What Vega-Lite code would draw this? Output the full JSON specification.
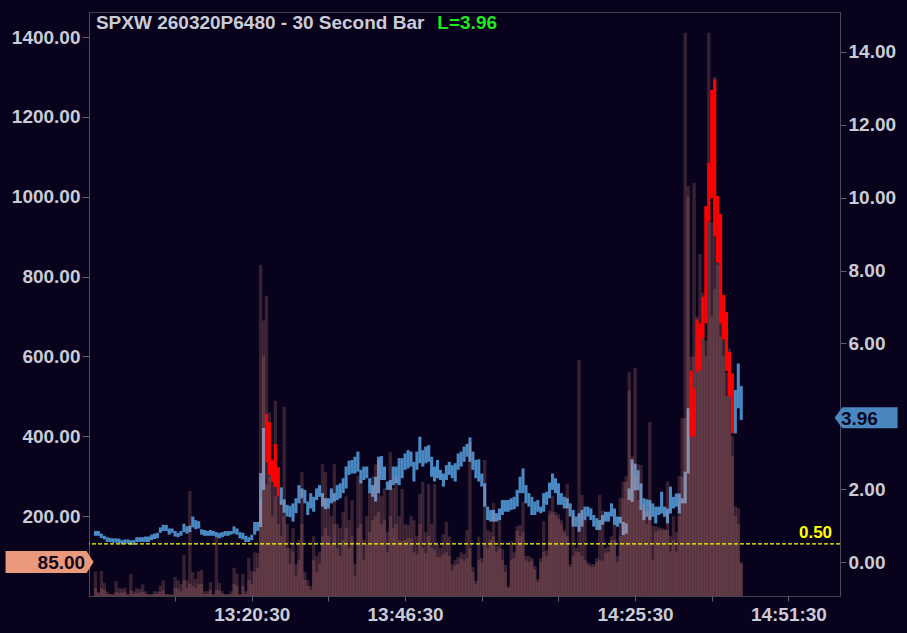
{
"$schema": "https://vega.github.io/schema/vega-lite/v6.json",
"width": 751, "height": 584,
"autosize": "none",
"padding": {"left": 89, "top": 12, "right": 67, "bottom": 37},
"background": "#08021c",
"config": {
  "view": {"stroke": "#3f4450", "strokeWidth": 1},
  "axis": {"labelFont": "Liberation Sans", "labelFontWeight": "bold", "labelFontSize": 19, "labelColor": "#c9ccd6", "tickColor": "#5d626e", "domainColor": "#4a4f5a", "grid": false},
  "text": {"font": "Liberation Sans", "fontWeight": "bold", "fontSize": 19}
},
"datasets": {"bars": [
{"m":774.0,"lo":0.72,"hi":0.85,"c":"b","v":61,"w":20},
{"m":774.5,"lo":0.72,"hi":0.85,"c":"b","v":10,"w":5},
{"m":775.0,"lo":0.66,"hi":0.78,"c":"b","v":63,"w":20},
{"m":775.5,"lo":0.62,"hi":0.72,"c":"b","v":33,"w":15},
{"m":776.0,"lo":0.55,"hi":0.68,"c":"b","v":11,"w":5},
{"m":776.5,"lo":0.55,"hi":0.66,"c":"b","v":5,"w":3},
{"m":777.0,"lo":0.53,"hi":0.65,"c":"b","v":5,"w":3},
{"m":777.5,"lo":0.53,"hi":0.65,"c":"b","v":37,"w":10},
{"m":778.0,"lo":0.52,"hi":0.64,"c":"b","v":20,"w":8},
{"m":778.5,"lo":0.48,"hi":0.60,"c":"b","v":18,"w":8},
{"m":779.0,"lo":0.52,"hi":0.62,"c":"b","v":21,"w":10},
{"m":779.5,"lo":0.50,"hi":0.62,"c":"b","v":5,"w":3},
{"m":780.0,"lo":0.47,"hi":0.60,"c":"b","v":55,"w":15},
{"m":780.5,"lo":0.47,"hi":0.60,"c":"b","v":12,"w":5},
{"m":781.0,"lo":0.55,"hi":0.68,"c":"b","v":20,"w":8},
{"m":781.5,"lo":0.55,"hi":0.68,"c":"b","v":18,"w":8},
{"m":782.0,"lo":0.55,"hi":0.68,"c":"b","v":29,"w":10},
{"m":782.5,"lo":0.55,"hi":0.70,"c":"b","v":12,"w":5},
{"m":783.0,"lo":0.55,"hi":0.70,"c":"b","v":5,"w":3},
{"m":783.5,"lo":0.60,"hi":0.75,"c":"b","v":5,"w":3},
{"m":784.0,"lo":0.63,"hi":0.78,"c":"b","v":12,"w":5},
{"m":784.5,"lo":0.65,"hi":0.80,"c":"b","v":12,"w":5},
{"m":785.0,"lo":0.80,"hi":0.95,"c":"b","v":26,"w":10},
{"m":785.5,"lo":0.85,"hi":1.02,"c":"b","v":39,"w":15},
{"m":786.0,"lo":0.85,"hi":1.02,"c":"b","v":5,"w":3},
{"m":786.5,"lo":0.75,"hi":0.92,"c":"b","v":5,"w":3},
{"m":787.0,"lo":0.80,"hi":0.92,"c":"b","v":4,"w":2},
{"m":787.5,"lo":0.70,"hi":0.85,"c":"b","v":48,"w":20},
{"m":788.0,"lo":0.68,"hi":0.80,"c":"b","v":39,"w":18},
{"m":788.5,"lo":0.72,"hi":0.85,"c":"b","v":30,"w":12},
{"m":789.0,"lo":0.82,"hi":1.05,"c":"b","v":103,"w":40},
{"m":789.5,"lo":0.78,"hi":0.98,"c":"b","v":39,"w":20},
{"m":790.0,"lo":0.82,"hi":1.00,"c":"b","v":263,"w":30},
{"m":790.5,"lo":0.95,"hi":1.25,"c":"b","v":60,"w":25},
{"m":791.0,"lo":0.90,"hi":1.15,"c":"b","v":43,"w":20},
{"m":791.5,"lo":0.92,"hi":1.12,"c":"b","v":62,"w":30},
{"m":792.0,"lo":0.75,"hi":0.90,"c":"b","v":65,"w":30},
{"m":792.5,"lo":0.72,"hi":0.88,"c":"b","v":12,"w":5},
{"m":793.0,"lo":0.72,"hi":0.85,"c":"b","v":12,"w":5},
{"m":793.5,"lo":0.72,"hi":0.88,"c":"b","v":35,"w":15},
{"m":794.0,"lo":0.72,"hi":0.85,"c":"b","v":5,"w":3},
{"m":794.5,"lo":0.68,"hi":0.82,"c":"b","v":148,"w":15},
{"m":795.0,"lo":0.65,"hi":0.80,"c":"b","v":33,"w":15},
{"m":795.5,"lo":0.68,"hi":0.82,"c":"b","v":12,"w":5},
{"m":796.0,"lo":0.72,"hi":0.85,"c":"b","v":5,"w":3},
{"m":796.5,"lo":0.72,"hi":0.85,"c":"b","v":5,"w":3},
{"m":797.0,"lo":0.75,"hi":0.85,"c":"b","v":12,"w":5},
{"m":797.5,"lo":0.78,"hi":0.98,"c":"b","v":71,"w":30},
{"m":798.0,"lo":0.75,"hi":0.92,"c":"b","v":56,"w":25},
{"m":798.5,"lo":0.65,"hi":0.82,"c":"b","v":5,"w":3},
{"m":799.0,"lo":0.62,"hi":0.80,"c":"b","v":55,"w":25},
{"m":799.5,"lo":0.55,"hi":0.72,"c":"b","v":12,"w":5},
{"m":800.0,"lo":0.55,"hi":0.68,"c":"b","v":95,"w":40},
{"m":800.5,"lo":0.60,"hi":0.75,"c":"b","v":63,"w":30},
{"m":801.0,"lo":0.75,"hi":1.10,"c":"b","v":109,"w":60},
{"m":801.5,"lo":0.85,"hi":1.10,"c":"b","v":108,"w":70},
{"m":802.0,"lo":0.96,"hi":2.44,"c":"b","v":829,"w":240},
{"m":802.5,"lo":1.98,"hi":3.68,"c":"b","v":690,"w":600},
{"m":803.0,"lo":2.74,"hi":4.06,"c":"r","v":752,"w":280},
{"m":803.5,"lo":2.39,"hi":3.84,"c":"r","v":460,"w":300},
{"m":804.0,"lo":2.20,"hi":2.80,"c":"r","v":300,"w":200},
{"m":804.5,"lo":2.06,"hi":3.24,"c":"r","v":489,"w":250},
{"m":805.0,"lo":1.80,"hi":2.60,"c":"r","v":250,"w":180},
{"m":805.5,"lo":1.57,"hi":2.05,"c":"b","v":240,"w":150},
{"m":806.0,"lo":1.35,"hi":1.72,"c":"b","v":474,"w":200},
{"m":806.5,"lo":1.25,"hi":1.57,"c":"b","v":180,"w":120},
{"m":807.0,"lo":1.23,"hi":1.54,"c":"b","v":120,"w":80},
{"m":807.5,"lo":1.11,"hi":1.61,"c":"b","v":170,"w":110},
{"m":808.0,"lo":1.34,"hi":1.75,"c":"b","v":80,"w":50},
{"m":808.5,"lo":1.61,"hi":2.11,"c":"b","v":140,"w":90},
{"m":809.0,"lo":1.75,"hi":2.02,"c":"b","v":310,"w":180},
{"m":809.5,"lo":1.61,"hi":1.98,"c":"b","v":60,"w":40},
{"m":810.0,"lo":1.29,"hi":1.66,"c":"b","v":40,"w":25},
{"m":810.5,"lo":1.47,"hi":1.89,"c":"b","v":25,"w":15},
{"m":811.0,"lo":1.38,"hi":1.79,"c":"b","v":150,"w":90},
{"m":811.5,"lo":1.70,"hi":2.02,"c":"b","v":100,"w":60},
{"m":812.0,"lo":1.79,"hi":2.11,"c":"b","v":110,"w":80},
{"m":812.5,"lo":1.52,"hi":1.89,"c":"b","v":330,"w":150},
{"m":813.0,"lo":1.45,"hi":1.75,"c":"b","v":310,"w":170},
{"m":813.5,"lo":1.47,"hi":1.75,"c":"b","v":220,"w":150},
{"m":814.0,"lo":1.61,"hi":2.02,"c":"b","v":200,"w":130},
{"m":814.5,"lo":1.66,"hi":1.89,"c":"b","v":330,"w":180},
{"m":815.0,"lo":1.70,"hi":2.11,"c":"b","v":180,"w":120},
{"m":815.5,"lo":1.75,"hi":2.16,"c":"b","v":170,"w":100},
{"m":816.0,"lo":1.89,"hi":2.30,"c":"b","v":210,"w":140},
{"m":816.5,"lo":2.02,"hi":2.62,"c":"b","v":250,"w":170},
{"m":817.0,"lo":2.39,"hi":2.78,"c":"b","v":190,"w":120},
{"m":817.5,"lo":2.43,"hi":2.80,"c":"b","v":240,"w":150},
{"m":818.0,"lo":2.43,"hi":2.89,"c":"b","v":80,"w":50},
{"m":818.5,"lo":2.48,"hi":3.03,"c":"b","v":300,"w":170},
{"m":819.0,"lo":2.16,"hi":2.53,"c":"b","v":290,"w":180},
{"m":819.5,"lo":2.25,"hi":2.62,"c":"b","v":140,"w":90},
{"m":820.0,"lo":2.30,"hi":2.62,"c":"b","v":200,"w":130},
{"m":820.5,"lo":1.89,"hi":2.30,"c":"b","v":260,"w":160},
{"m":821.0,"lo":1.79,"hi":2.11,"c":"b","v":300,"w":190},
{"m":821.5,"lo":1.66,"hi":2.34,"c":"b","v":330,"w":200},
{"m":822.0,"lo":1.89,"hi":2.89,"c":"b","v":340,"w":210},
{"m":822.5,"lo":2.25,"hi":2.91,"c":"b","v":250,"w":180},
{"m":823.0,"lo":2.25,"hi":2.62,"c":"b","v":270,"w":190},
{"m":823.5,"lo":1.98,"hi":2.21,"c":"b","v":160,"w":110},
{"m":824.0,"lo":1.98,"hi":2.25,"c":"b","v":360,"w":200},
{"m":824.5,"lo":2.11,"hi":2.62,"c":"b","v":270,"w":170},
{"m":825.0,"lo":2.16,"hi":2.62,"c":"b","v":300,"w":180},
{"m":825.5,"lo":2.11,"hi":2.85,"c":"b","v":200,"w":140},
{"m":826.0,"lo":2.30,"hi":2.85,"c":"b","v":268,"w":138},
{"m":826.5,"lo":2.53,"hi":2.98,"c":"b","v":180,"w":140},
{"m":827.0,"lo":2.57,"hi":3.07,"c":"b","v":178,"w":145},
{"m":827.5,"lo":2.62,"hi":3.03,"c":"b","v":200,"w":145},
{"m":828.0,"lo":2.21,"hi":2.75,"c":"b","v":190,"w":110},
{"m":828.5,"lo":2.53,"hi":3.03,"c":"b","v":150,"w":103},
{"m":829.0,"lo":2.71,"hi":3.44,"c":"b","v":256,"w":180},
{"m":829.5,"lo":2.62,"hi":3.07,"c":"b","v":286,"w":120},
{"m":830.0,"lo":2.71,"hi":3.17,"c":"b","v":160,"w":108},
{"m":830.5,"lo":2.75,"hi":3.21,"c":"b","v":281,"w":150},
{"m":831.0,"lo":2.34,"hi":2.89,"c":"b","v":180,"w":120},
{"m":831.5,"lo":2.21,"hi":2.62,"c":"b","v":281,"w":115},
{"m":832.0,"lo":2.30,"hi":2.80,"c":"b","v":130,"w":98},
{"m":832.5,"lo":2.25,"hi":2.53,"c":"b","v":120,"w":98},
{"m":833.0,"lo":2.07,"hi":2.43,"c":"b","v":155,"w":105},
{"m":833.5,"lo":2.25,"hi":2.66,"c":"b","v":185,"w":110},
{"m":834.0,"lo":2.39,"hi":2.75,"c":"b","v":149,"w":100},
{"m":834.5,"lo":2.30,"hi":2.66,"c":"b","v":80,"w":63},
{"m":835.0,"lo":2.21,"hi":2.71,"c":"b","v":90,"w":78},
{"m":835.5,"lo":2.53,"hi":2.98,"c":"b","v":98,"w":80},
{"m":836.0,"lo":2.62,"hi":3.03,"c":"b","v":110,"w":93},
{"m":836.5,"lo":2.75,"hi":3.17,"c":"b","v":105,"w":89},
{"m":837.0,"lo":2.89,"hi":3.24,"c":"b","v":165,"w":95},
{"m":837.5,"lo":2.75,"hi":3.42,"c":"b","v":386,"w":120},
{"m":838.0,"lo":2.53,"hi":3.03,"c":"b","v":73,"w":60},
{"m":838.5,"lo":2.30,"hi":2.80,"c":"b","v":38,"w":30},
{"m":839.0,"lo":2.21,"hi":2.82,"c":"b","v":149,"w":90},
{"m":839.5,"lo":2.07,"hi":2.43,"c":"b","v":95,"w":84},
{"m":840.0,"lo":1.52,"hi":2.16,"c":"b","v":341,"w":130},
{"m":840.5,"lo":1.15,"hi":1.52,"c":"b","v":165,"w":120},
{"m":841.0,"lo":1.11,"hi":1.43,"c":"b","v":160,"w":140},
{"m":841.5,"lo":1.11,"hi":1.43,"c":"b","v":233,"w":150},
{"m":842.0,"lo":1.11,"hi":1.34,"c":"b","v":125,"w":111},
{"m":842.5,"lo":1.15,"hi":1.47,"c":"b","v":195,"w":120},
{"m":843.0,"lo":1.29,"hi":1.70,"c":"b","v":118,"w":90},
{"m":843.5,"lo":1.38,"hi":1.70,"c":"b","v":78,"w":60},
{"m":844.0,"lo":1.38,"hi":1.70,"c":"b","v":24,"w":20},
{"m":844.5,"lo":1.43,"hi":1.75,"c":"b","v":138,"w":90},
{"m":845.0,"lo":1.45,"hi":1.79,"c":"b","v":110,"w":95},
{"m":845.5,"lo":1.52,"hi":1.98,"c":"b","v":175,"w":163},
{"m":846.0,"lo":1.89,"hi":2.34,"c":"b","v":178,"w":150},
{"m":846.5,"lo":1.89,"hi":2.57,"c":"b","v":236,"w":160},
{"m":847.0,"lo":1.61,"hi":2.11,"c":"b","v":100,"w":89},
{"m":847.5,"lo":1.52,"hi":1.89,"c":"b","v":100,"w":85},
{"m":848.0,"lo":1.29,"hi":1.79,"c":"b","v":95,"w":89},
{"m":848.5,"lo":1.29,"hi":1.66,"c":"b","v":75,"w":66},
{"m":849.0,"lo":1.38,"hi":1.70,"c":"b","v":42,"w":35},
{"m":849.5,"lo":1.34,"hi":1.52,"c":"b","v":95,"w":85},
{"m":850.0,"lo":1.38,"hi":1.89,"c":"b","v":188,"w":110},
{"m":850.5,"lo":1.57,"hi":1.93,"c":"b","v":115,"w":100},
{"m":851.0,"lo":1.75,"hi":2.18,"c":"b","v":215,"w":205},
{"m":851.5,"lo":1.98,"hi":2.43,"c":"b","v":251,"w":210},
{"m":852.0,"lo":1.89,"hi":2.30,"c":"b","v":210,"w":202},
{"m":852.5,"lo":1.57,"hi":2.16,"c":"b","v":205,"w":194},
{"m":853.0,"lo":1.57,"hi":1.89,"c":"b","v":190,"w":181},
{"m":853.5,"lo":1.47,"hi":1.79,"c":"b","v":165,"w":158},
{"m":854.0,"lo":1.47,"hi":1.75,"c":"b","v":281,"w":150},
{"m":854.5,"lo":1.25,"hi":1.61,"c":"b","v":80,"w":73},
{"m":855.0,"lo":0.97,"hi":1.43,"c":"b","v":202,"w":100},
{"m":855.5,"lo":0.97,"hi":1.25,"c":"b","v":120,"w":111},
{"m":856.0,"lo":0.83,"hi":1.34,"c":"b","v":591,"w":110},
{"m":856.5,"lo":0.97,"hi":1.43,"c":"b","v":253,"w":100},
{"m":857.0,"lo":1.15,"hi":1.52,"c":"b","v":190,"w":90},
{"m":857.5,"lo":1.25,"hi":1.52,"c":"b","v":85,"w":78},
{"m":858.0,"lo":1.15,"hi":1.47,"c":"b","v":80,"w":73},
{"m":858.5,"lo":0.97,"hi":1.29,"c":"b","v":80,"w":73},
{"m":859.0,"lo":0.88,"hi":1.20,"c":"b","v":95,"w":86},
{"m":859.5,"lo":0.88,"hi":1.15,"c":"b","v":253,"w":90},
{"m":860.0,"lo":1.02,"hi":1.29,"c":"b","v":214,"w":88},
{"m":860.5,"lo":1.11,"hi":1.38,"c":"b","v":120,"w":108},
{"m":861.0,"lo":1.11,"hi":1.38,"c":"b","v":126,"w":110},
{"m":861.5,"lo":1.25,"hi":1.61,"c":"b","v":150,"w":140},
{"m":862.0,"lo":1.02,"hi":1.47,"c":"b","v":180,"w":140},
{"m":862.5,"lo":0.97,"hi":1.25,"c":"b","v":100,"w":85},
{"m":863.0,"lo":1.06,"hi":1.24,"c":"b","v":246,"w":150},
{"m":863.5,"lo":0.74,"hi":1.10,"c":"b","v":286,"w":245},
{"m":864.0,"lo":0.78,"hi":1.06,"c":"b","v":300,"w":286},
{"m":864.5,"lo":1.70,"hi":2.02,"c":"b","v":561,"w":514},
{"m":865.0,"lo":1.65,"hi":2.82,"c":"b","v":350,"w":333},
{"m":865.5,"lo":1.97,"hi":2.70,"c":"b","v":571,"w":300},
{"m":866.0,"lo":1.97,"hi":2.52,"c":"b","v":330,"w":240},
{"m":866.5,"lo":1.43,"hi":2.16,"c":"b","v":328,"w":220},
{"m":867.0,"lo":1.15,"hi":1.75,"c":"b","v":230,"w":215},
{"m":867.5,"lo":1.24,"hi":1.72,"c":"b","v":210,"w":180},
{"m":868.0,"lo":1.15,"hi":1.70,"c":"b","v":436,"w":200},
{"m":868.5,"lo":1.24,"hi":1.61,"c":"b","v":175,"w":90},
{"m":869.0,"lo":1.06,"hi":1.52,"c":"b","v":175,"w":160},
{"m":869.5,"lo":1.29,"hi":1.52,"c":"b","v":172,"w":165},
{"m":870.0,"lo":1.33,"hi":1.93,"c":"b","v":170,"w":165},
{"m":870.5,"lo":1.24,"hi":1.52,"c":"b","v":168,"w":165},
{"m":871.0,"lo":1.06,"hi":1.47,"c":"b","v":287,"w":165},
{"m":871.5,"lo":1.33,"hi":2.07,"c":"b","v":150,"w":111},
{"m":872.0,"lo":1.47,"hi":1.79,"c":"b","v":200,"w":140},
{"m":872.5,"lo":1.52,"hi":1.88,"c":"b","v":160,"w":111},
{"m":873.0,"lo":1.33,"hi":1.88,"c":"b","v":300,"w":200},
{"m":873.5,"lo":1.61,"hi":1.75,"c":"b","v":446,"w":300},
{"m":874.0,"lo":1.61,"hi":2.48,"c":"b","v":1411,"w":446},
{"m":874.5,"lo":2.43,"hi":4.22,"c":"b","v":1027,"w":1000},
{"m":875.0,"lo":3.44,"hi":5.25,"c":"r","v":600,"w":550},
{"m":875.5,"lo":3.44,"hi":4.77,"c":"r","v":1035,"w":600},
{"m":876.0,"lo":5.22,"hi":6.66,"c":"r","v":700,"w":650},
{"m":876.5,"lo":5.27,"hi":6.55,"c":"r","v":857,"w":680},
{"m":877.0,"lo":6.14,"hi":7.28,"c":"r","v":760,"w":650},
{"m":877.5,"lo":6.55,"hi":9.77,"c":"r","v":640,"w":600},
{"m":878.0,"lo":9.34,"hi":10.96,"c":"r","v":1411,"w":937},
{"m":878.5,"lo":9.98,"hi":12.96,"c":"r","v":937,"w":700},
{"m":879.0,"lo":8.95,"hi":13.25,"c":"r","v":1300,"w":770},
{"m":879.5,"lo":8.22,"hi":10.05,"c":"r","v":902,"w":830},
{"m":880.0,"lo":6.55,"hi":9.55,"c":"r","v":837,"w":650},
{"m":880.5,"lo":6.11,"hi":7.33,"c":"r","v":700,"w":600},
{"m":881.0,"lo":5.24,"hi":6.86,"c":"r","v":560,"w":500},
{"m":881.5,"lo":4.54,"hi":5.77,"c":"r","v":620,"w":560},
{"m":882.0,"lo":3.53,"hi":5.18,"c":"r","v":400,"w":350},
{"m":882.5,"lo":3.53,"hi":4.72,"c":"b","v":225,"w":200},
{"m":883.0,"lo":4.22,"hi":5.45,"c":"b","v":220,"w":180},
{"m":883.5,"lo":3.90,"hi":4.83,"c":"b","v":85,"w":80}
]},
"data": {"name": "bars"},
"layer": [
  {"transform": [{"filter": "datum.c == 'b'"}],
   "mark": {"type": "bar", "width": 3.1, "color": "#4a8ac4"},
   "encoding": {
     "x": {"field": "m", "type": "quantitative", "title": null,
       "scale": {"domain": [773.75, 899.4], "nice": false, "zero": false},
       "axis": {"orient": "bottom", "tickSize": 5, "labelPadding": 4, "domain": false,
         "values": [787.5, 800.5, 813.5, 826.5, 839.5, 852.5, 865.5, 878.5, 891.5],
         "labelExpr": "datum.value == 800.5 ? '13:20:30' : datum.value == 826.5 ? '13:46:30' : datum.value == 865.5 ? '14:25:30' : datum.value == 891.5 ? '14:51:30' : ''"}},
     "y": {"field": "lo", "type": "quantitative", "title": null,
       "scale": {"domain": [-0.933, 15.097], "nice": false, "zero": false},
       "axis": {"orient": "right", "values": [0,2,4,6,8,10,12,14], "format": ".2f", "tickSize": 6, "labelPadding": 2}},
     "y2": {"field": "hi"}
   }},
  {"mark": {"type": "bar", "width": 3.4, "color": "#f79a8a", "opacity": 0.2},
   "encoding": {
     "x": {"field": "m", "type": "quantitative", "title": null, "scale": {"domain": [773.75, 899.4], "nice": false, "zero": false}},
     "y": {"field": "v", "type": "quantitative", "title": null,
       "scale": {"domain": [0, 1463], "nice": false},
       "axis": {"orient": "left", "values": [200,400,600,800,1000,1200,1400], "format": ".2f", "tickSize": 7, "labelPadding": 2}}
   }},
  {"mark": {"type": "bar", "width": 3.0, "color": "#f79a8a", "opacity": 0.18},
   "encoding": {
     "x": {"field": "m", "type": "quantitative", "title": null, "scale": {"domain": [773.75, 899.4], "nice": false, "zero": false}},
     "y": {"field": "w", "type": "quantitative", "axis": null,
       "scale": {"domain": [0, 1463], "nice": false}}
   }},
  {"transform": [{"filter": "datum.c == 'r'"}],
   "mark": {"type": "bar", "width": 3.1, "color": "#ff0000"},
   "encoding": {
     "x": {"field": "m", "type": "quantitative", "title": null, "scale": {"domain": [773.75, 899.4], "nice": false, "zero": false}},
     "y": {"field": "lo", "type": "quantitative", "axis": null,
       "scale": {"domain": [-0.933, 15.097], "nice": false, "zero": false}},
     "y2": {"field": "hi"}
   }},
  {"data": {"values": [{}]},
   "mark": {"type": "rule", "color": "#ffff00", "strokeDash": [4, 2], "strokeWidth": 1.2},
   "encoding": {
     "y": {"datum": 0.5, "type": "quantitative", "axis": null,
       "scale": {"domain": [-0.933, 15.097], "nice": false, "zero": false}}
   }},
  {"data": {"values": [{}]},
   "mark": {"type": "text", "text": "0.50", "color": "#ffff00", "align": "right", "baseline": "bottom", "dy": -2, "fontSize": 17},
   "encoding": {
     "x": {"datum": 898.9, "type": "quantitative", "title": null, "scale": {"domain": [773.75, 899.4], "nice": false, "zero": false}},
     "y": {"datum": 0.5, "type": "quantitative", "axis": null,
       "scale": {"domain": [-0.933, 15.097], "nice": false, "zero": false}}
   }},
  {"data": {"values": [{}]},
   "mark": {"type": "text", "text": "SPXW 260320P6480 - 30 Second Bar", "color": "#c9ccd6", "align": "left", "baseline": "alphabetic"},
   "encoding": {
     "x": {"datum": 774.08, "type": "quantitative", "title": null, "scale": {"domain": [773.75, 899.4], "nice": false, "zero": false}},
     "y": {"datum": 14.63, "type": "quantitative", "axis": null,
       "scale": {"domain": [-0.933, 15.097], "nice": false, "zero": false}}
   }},
  {"data": {"values": [{}]},
   "mark": {"type": "text", "text": "L=3.96", "color": "#1fe81f", "align": "left", "baseline": "alphabetic"},
   "encoding": {
     "x": {"datum": 831.97, "type": "quantitative", "title": null, "scale": {"domain": [773.75, 899.4], "nice": false, "zero": false}},
     "y": {"datum": 14.63, "type": "quantitative", "axis": null,
       "scale": {"domain": [-0.933, 15.097], "nice": false, "zero": false}}
   }},
  {"data": {"values": [{}]},
   "mark": {"type": "point", "shape": "M -1 -0.25 L 0.84 -0.25 L 1 0 L 0.84 0.25 L -1 0.25 Z", "size": 7744, "filled": true, "color": "#eb997d", "opacity": 1, "clip": false},
   "encoding": {
     "x": {"datum": 766.22, "type": "quantitative", "title": null, "scale": {"domain": [773.75, 899.4], "nice": false, "zero": false}},
     "y": {"datum": 85, "type": "quantitative", "axis": null,
       "scale": {"domain": [0, 1463], "nice": false}}
   }},
  {"data": {"values": [{}]},
   "mark": {"type": "text", "text": "85.00", "color": "#14081a", "align": "right", "baseline": "middle", "dy": 1},
   "encoding": {
     "x": {"datum": 772.25, "type": "quantitative", "title": null, "scale": {"domain": [773.75, 899.4], "nice": false, "zero": false}},
     "y": {"datum": 85, "type": "quantitative", "axis": null,
       "scale": {"domain": [0, 1463], "nice": false}}
   }},
  {"data": {"values": [{}]},
   "mark": {"type": "point", "shape": "M -1 0 L -0.75 -0.333 L 1 -0.333 L 1 0.333 L -0.75 0.333 Z", "size": 3969, "filled": true, "color": "#4a86bf", "opacity": 1, "clip": false},
   "encoding": {
     "x": {"datum": 904.67, "type": "quantitative", "title": null, "scale": {"domain": [773.75, 899.4], "nice": false, "zero": false}},
     "y": {"datum": 3.96, "type": "quantitative", "axis": null,
       "scale": {"domain": [-0.933, 15.097], "nice": false, "zero": false}}
   }},
  {"data": {"values": [{}]},
   "mark": {"type": "text", "text": "3.96", "color": "#0c0a22", "align": "left", "baseline": "middle", "dy": 1},
   "encoding": {
     "x": {"datum": 900.4, "type": "quantitative", "title": null, "scale": {"domain": [773.75, 899.4], "nice": false, "zero": false}},
     "y": {"datum": 3.96, "type": "quantitative", "axis": null,
       "scale": {"domain": [-0.933, 15.097], "nice": false, "zero": false}}
   }}
],
"resolve": {"scale": {"y": "independent"}}
}
